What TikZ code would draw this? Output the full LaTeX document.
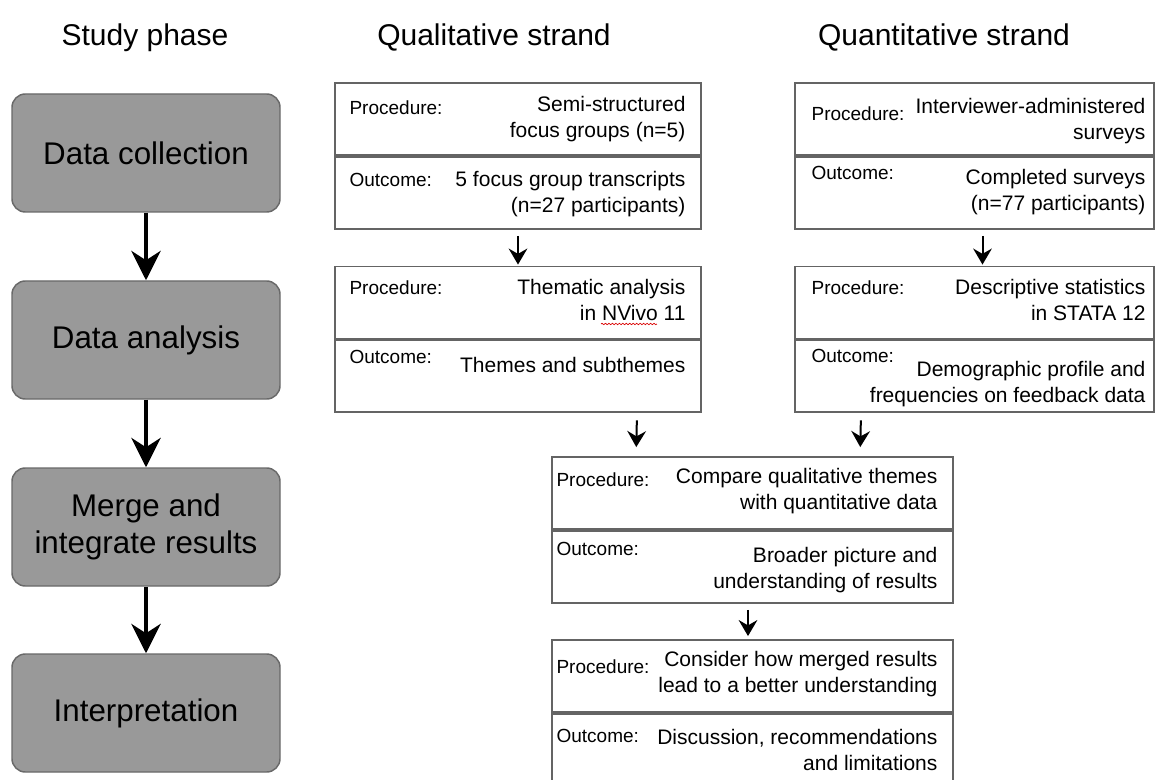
\documentclass[tikz,border=0pt]{standalone}
\usepackage{fontspec}
\setmainfont{Liberation Sans}
\usetikzlibrary{arrows.meta,calc,positioning,decorations.pathmorphing}

\definecolor{phasefill}{RGB}{153,153,153}
\definecolor{phaseline}{RGB}{105,105,105}
\definecolor{boxline}{RGB}{100,100,100}

\tikzset{every picture/.style={line width=0.75pt}}
\tikzset{
  phase/.style={draw=phaseline, fill=phasefill, rounded corners=10pt, line width=1.1pt,
    minimum width=201pt, minimum height=88.5pt, align=center,
    font=\fontsize{23.5pt}{28pt}\selectfont},
  half/.style={draw=boxline, line width=1.4pt, minimum height=54pt, inner sep=0pt},
  lbl/.style={anchor=north west, inner sep=0pt, font=\fontsize{14.25pt}{17pt}\selectfont},
  txt/.style={anchor=north east, inner sep=0pt, align=right, font=\fontsize{15.75pt}{19.5pt}\selectfont},
  title/.style={anchor=base, inner sep=0pt, font=\fontsize{22.5pt}{27pt}\selectfont},
  bigarrow/.style={line width=3.2pt, -{Stealth[length=22pt,width=22pt,inset=7pt]}},
  smallarrow/.style={line width=1.5pt, -{Stealth[length=12pt,width=14pt,inset=4pt]}},
  squig/.style={draw=red!85!black, line width=0.5pt, decorate,
    decoration={snake, segment length=2.6pt, amplitude=0.55pt}}
}

\begin{document}
\begin{tikzpicture}[x=0.75pt,y=0.75pt,yscale=-1,xscale=1]
\useasboundingbox (0,0) rectangle (1156,780);

% Titles
\node[title] (tStudy) at (145,46) {Study phase};
\node[title] (tQual) at (494,46) {Qualitative strand};
\node[title] (tQuant) at (944,46) {Quantitative strand};

% Study phases
\node[phase] (dc) at (146,153) {Data collection};
\node[phase] (da) at (146,340) {Data analysis};
\node[phase] (mi) at (146,527) {Merge and\\integrate results};
\node[phase] (ip) at (146,713) {Interpretation};

\draw[bigarrow] (dc) -- (da);
\draw[bigarrow] (da) -- (mi);
\draw[bigarrow] (mi) -- (ip);

% Qualitative strand
\node[half, minimum width=274.5pt] (qlA-p) at (518,119) {};
\node[half, minimum width=274.5pt, below=0pt of qlA-p] (qlA-o) {};
\node[half, minimum width=274.5pt] (qlB-p) at (518,302.5) {};
\node[half, minimum width=274.5pt, below=0pt of qlB-p] (qlB-o) {};

% Quantitative strand
\node[half, minimum width=269.25pt] (qnA-p) at (974.5,119) {};
\node[half, minimum width=269.25pt, below=0pt of qnA-p] (qnA-o) {};
\node[half, minimum width=269.25pt] (qnB-p) at (974.5,302.5) {};
\node[half, minimum width=269.25pt, below=0pt of qnB-p] (qnB-o) {};

% Merged results
\node[half, minimum width=300.75pt] (mgA-p) at (752.5,493) {};
\node[half, minimum width=300.75pt, below=0pt of mgA-p] (mgA-o) {};
\node[half, minimum width=300.75pt] (mgB-p) at (752.5,676) {};
\node[half, minimum width=300.75pt, below=0pt of mgB-p] (mgB-o) {};

% Text Node
\node[lbl] (qlA-pl) at ($(qlA-p.north west)+(15,18)$) {Procedure:};
\node[txt] (qlA-pt) at ($(qlA-p.north east)+(-16,14)$) {Semi-structured\\focus groups (n=5)};
\node[lbl] (qlA-ol) at ($(qlA-o.north west)+(15,17)$) {Outcome:};
\node[txt] (qlA-ot) at ($(qlA-o.north east)+(-16,15)$) {5 focus group transcripts\\(n=27 participants)};
% Text Node
\node[lbl] (qlB-pl) at ($(qlB-p.north west)+(15,15)$) {Procedure:};
\node[txt] (qlB-pt) at ($(qlB-p.north east)+(-16,13)$) {Thematic analysis\\in NVivo 11};
\node[lbl] (qlB-ol) at ($(qlB-o.north west)+(15,10)$) {Outcome:};
\node[txt] (qlB-ot) at ($(qlB-o.north east)+(-16,17)$) {Themes and subthemes};
\draw[squig] ($(qlB-pt.south east)+(-85,3)$) -- ($(qlB-pt.south east)+(-29,3)$);
% Text Node
\node[lbl] (qnA-pl) at ($(qnA-p.north west)+(17,24)$) {Procedure:};
\node[txt] (qnA-pt) at ($(qnA-p.north east)+(-9,16)$) {Interviewer-administered\\surveys};
\node[lbl] (qnA-ol) at ($(qnA-o.north west)+(17,10)$) {Outcome:};
\node[txt] (qnA-ot) at ($(qnA-o.north east)+(-9,13)$) {Completed surveys\\(n=77 participants)};
% Text Node
\node[lbl] (qnB-pl) at ($(qnB-p.north west)+(17,15)$) {Procedure:};
\node[txt] (qnB-pt) at ($(qnB-p.north east)+(-9,13)$) {Descriptive statistics\\in STATA 12};
\node[lbl] (qnB-ol) at ($(qnB-o.north west)+(17,9)$) {Outcome:};
\node[txt] (qnB-ot) at ($(qnB-o.north east)+(-9,21)$) {Demographic profile and\\frequencies on feedback data};
% Text Node
\node[lbl] (mgA-pl) at ($(mgA-p.north west)+(5,16)$) {Procedure:};
\node[txt] (mgA-pt) at ($(mgA-p.north east)+(-16,12)$) {Compare qualitative themes\\with quantitative data};
\node[lbl] (mgA-ol) at ($(mgA-o.north west)+(5,12)$) {Outcome:};
\node[txt] (mgA-ot) at ($(mgA-o.north east)+(-16,17)$) {Broader picture and\\understanding of results};
% Text Node
\node[lbl] (mgB-pl) at ($(mgB-p.north west)+(5,20)$) {Procedure:};
\node[txt] (mgB-pt) at ($(mgB-p.north east)+(-16,12)$) {Consider how merged results\\lead to a better understanding};
\node[lbl] (mgB-ol) at ($(mgB-o.north west)+(5,16)$) {Outcome:};
\node[txt] (mgB-ot) at ($(mgB-o.north east)+(-16,16)$) {Discussion, recommendations\\and limitations};

% Strand arrows
\draw[smallarrow, shorten <=4.5pt, shorten >=0.75pt] (qlA-o) -- (qlB-p);
\draw[smallarrow, shorten <=4.5pt, shorten >=0.75pt] ($(qnA-o.south)+(8,0)$) -- ($(qnB-p.north)+(8,0)$);
\draw[smallarrow, shorten <=5.25pt, shorten >=6.75pt] ($(qlB-o.south)+(119,0)$) -- ($(mgA-p.north west)+(85,0)$);
\draw[smallarrow, shorten <=5.25pt, shorten >=6.75pt] ($(qnB-o.south)+(-113.5,0)$) -- ($(mgA-p.north west)+(309,0)$);
\draw[smallarrow, shorten <=4.5pt, shorten >=2.25pt] ($(mgA-o.south)+(-4.5,0)$) -- ($(mgB-p.north)+(-4.5,0)$);

\end{tikzpicture}
\end{document}
